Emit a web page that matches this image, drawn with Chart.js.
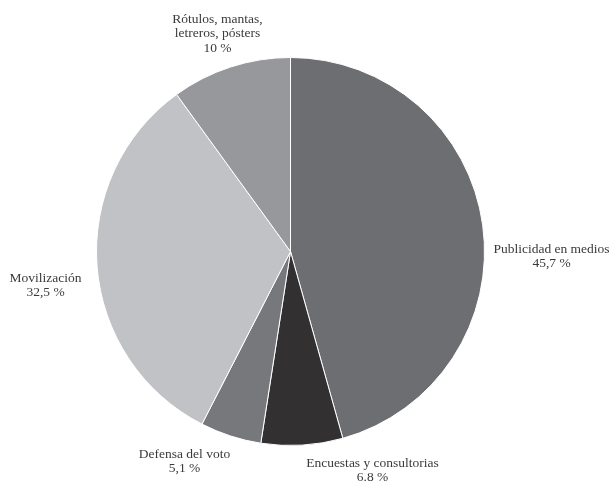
<!DOCTYPE html>
<html lang="es">
<head>
  <meta charset="UTF-8" />
  <title>Distribución del gasto de campaña</title>
  <script src="https://cdn.jsdelivr.net/npm/chart.js"></script>
  <style>
    html, body {
      margin: 0;
      padding: 0;
      background: #fff;
    }
    #wrap {
      width: 612px;
      height: 483px;
    }
  </style>
</head>
<body>

<div id="wrap">
  <canvas id="chart" width="612" height="483"></canvas>
</div>

<script>
  // data
  const categories = [
    "Publicidad en medios",
    "Encuestas y consultorias",
    "Defensa del voto",
    "Movilización",
    "Rótulos, mantas, letreros, pósters"
  ];
  const values = [45.7, 6.8, 5.1, 32.5, 10];
  const valueLabels = ["45,7 %", "6.8 %", "5,1 %", "32,5 %", "10 %"];
  const labelLines = [
    ["Publicidad en medios"],
    ["Encuestas y consultorias"],
    ["Defensa del voto"],
    ["Movilización"],
    ["Rótulos, mantas,", "letreros, pósters"]
  ];

  // look
  const sliceColors = ["#6d6e72", "#333031", "#77787b", "#c1c2c5", "#97989b"];
  // where each label sits, measured from the pie centre (px)
  const labelOffsets = [
    [261, 1],
    [82, 215],
    [-106, 206],
    [-245, 30],
    [-73, -229]
  ];

  const outsideLabels = {
    id: "outsideLabels",
    afterDraw(chart) {
      const ctx = chart.ctx;
      const arcs = chart.getDatasetMeta(0).data;
      if (!arcs.length) return;
      const cx = arcs[0].x;
      const cy = arcs[0].y;
      ctx.save();
      ctx.font = "13.5px 'Liberation Serif', 'DejaVu Serif', serif";
      ctx.fillStyle = "#3a3a3a";
      ctx.textAlign = "center";
      ctx.textBaseline = "alphabetic";
      const lh = 14.5;
      arcs.forEach((arc, i) => {
        const x = cx + labelOffsets[i][0];
        let y = cy + labelOffsets[i][1];
        const lines = labelLines[i].concat([valueLabels[i]]);
        lines.forEach(line => {
          ctx.fillText(line, x, y);
          y += lh;
        });
      });
      ctx.restore();
    }
  };

  new Chart(document.getElementById("chart"), {
    type: "pie",
    data: {
      labels: categories,
      datasets: [{
        data: values,
        backgroundColor: sliceColors,
        borderColor: "#ffffff",
        borderWidth: 1
      }]
    },
    options: {
      responsive: false,
      animation: false,
      layout: {
        padding: { left: 96, right: 127, top: 57, bottom: 37 }
      },
      plugins: {
        legend: { display: false },
        tooltip: { enabled: false }
      }
    },
    plugins: [outsideLabels]
  });
</script>

</body>
</html>
